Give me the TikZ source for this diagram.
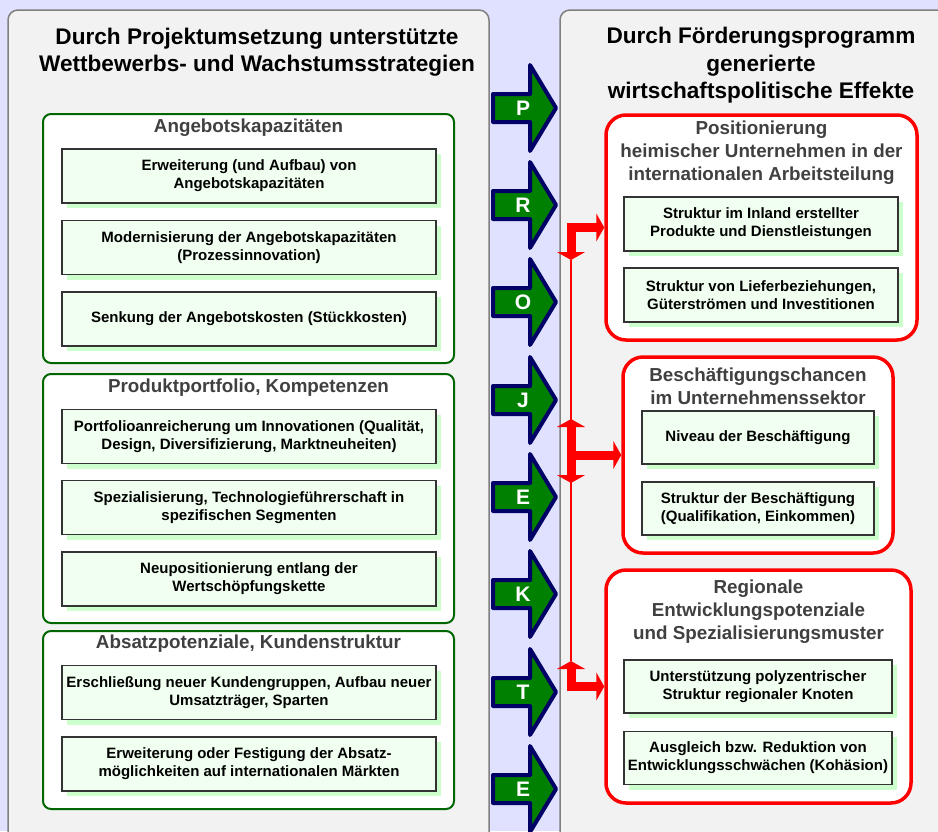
\documentclass[tikz,border=0pt]{standalone}
\usepackage{fontspec}
\setmainfont{Liberation Sans}
\usetikzlibrary{arrows.meta,shadows}
\definecolor{bglav}{HTML}{E0E0FF}
\definecolor{panelgray}{HTML}{F2F2F2}
\definecolor{panelborder}{HTML}{808080}
\definecolor{dgreen}{HTML}{006600}
\definecolor{innerfill}{HTML}{F0FFF0}
\definecolor{shadowgreen}{HTML}{CCFFCC}
\definecolor{titlegray}{HTML}{404040}
\definecolor{arrgreen}{HTML}{008000}
\definecolor{navyb}{HTML}{000066}
\begin{document}
\begin{tikzpicture}[x=1pt,y=-1pt,
  panel/.style={fill=panelgray, draw=panelborder, line width=1.5pt, rounded corners=10pt},
  greenbox/.style={draw=dgreen, fill=white, line width=2pt, rounded corners=8pt, inner sep=0pt},
  redbox/.style={draw=red, fill=white, line width=3.5pt, rounded corners=20pt, inner sep=0pt},
  innerbox/.style={draw=black!80, fill=innerfill, line width=1.2pt, inner sep=0pt, align=center,
    font=\fontsize{15}{18}\selectfont\bfseries,
    drop shadow={shadow xshift=5pt, shadow yshift=-5pt, fill=shadowgreen, opacity=1}},
  boxtitle/.style={inner sep=0pt, align=center, text=titlegray, font=\fontsize{18.8}{23}\selectfont\bfseries},
  paneltitle/.style={inner sep=0pt, align=center, text=black, font=\fontsize{22.6}{27.5}\selectfont\bfseries},
  blockarrow/.style={fill=arrgreen, draw=navyb, line width=4pt, line join=round},
  arrletter/.style={inner sep=0pt, text=white, font=\fontsize{21}{21}\selectfont\bfseries},
  redthick/.style={draw=red, line width=9pt, >={Triangle[length=8pt,width=28pt]}},
  redthin/.style={draw=red, line width=2pt}
]
\useasboundingbox (0,0) rectangle (938,831);
\clip (0,0) rectangle (938,831);
\fill[bglav] (0,0) rectangle (938,831);

% panels
\draw[panel] (8,10) rectangle (489,880);
\draw[panel] (560,10) rectangle (990,880);

\node[paneltitle] (ltitle) at (257,52) {Durch Projektumsetzung unterstützte\\Wettbewerbs- und Wachstumsstrategien};
\node[paneltitle] (rtitle) at (761,65.5) {Durch Förderungsprogramm\\generierte\\wirtschaftspolitische Effekte};

% left green groups
\node[greenbox, minimum width=411pt, minimum height=249pt] (g1) at (248.5,238.5) {};
\node[boxtitle] (g1t) at (248.5,128) {Angebotskapazitäten};
\node[innerbox, minimum width=374pt, minimum height=54pt] (g1a) at (249,176) {Erweiterung (und Aufbau) von\\Angebotskapazitäten};
\node[innerbox, minimum width=374pt, minimum height=54pt] (g1b) at (249,247.5) {Modernisierung der Angebotskapazitäten\\(Prozessinnovation)};
\node[innerbox, minimum width=374pt, minimum height=54pt] (g1c) at (249,319) {Senkung der Angebotskosten (Stückkosten)};

\node[greenbox, minimum width=411pt, minimum height=249pt] (g2) at (248.5,498.5) {};
\node[boxtitle] (g2t) at (248.5,388) {Produktportfolio, Kompetenzen};
\node[innerbox, minimum width=374pt, minimum height=54pt] (g2a) at (249,436.5) {Portfolioanreicherung um Innovationen (Qualität,\\Design, Diversifizierung, Marktneuheiten)};
\node[innerbox, minimum width=374pt, minimum height=54pt] (g2b) at (249,507.5) {Spezialisierung, Technologieführerschaft in\\spezifischen Segmenten};
\node[innerbox, minimum width=374pt, minimum height=54pt] (g2c) at (249,579) {Neupositionierung entlang der\\Wertschöpfungskette};

\node[greenbox, minimum width=411pt, minimum height=178pt] (g3) at (248.5,720) {};
\node[boxtitle] (g3t) at (248.5,644) {Absatzpotenziale, Kundenstruktur};
\node[innerbox, minimum width=374pt, minimum height=54pt] (g3a) at (249,692.5) {Erschließung neuer Kundengruppen, Aufbau neuer\\Umsatzträger, Sparten};
\node[innerbox, minimum width=374pt, minimum height=54pt] (g3b) at (249,764) {Erweiterung oder Festigung der Absatz-\\möglichkeiten auf internationalen Märkten};

% right red groups
\node[redbox, minimum width=311pt, minimum height=225pt] (r1) at (761.5,227.5) {};
\node[boxtitle] (r1t) at (761.5,153) {Positionierung\\heimischer Unternehmen in der\\internationalen Arbeitsteilung};
\node[innerbox, minimum width=274pt, minimum height=54pt] (r1a) at (761,224) {Struktur im Inland erstellter\\Produkte und Dienstleistungen};
\node[innerbox, minimum width=274pt, minimum height=54pt] (r1b) at (761,295) {Struktur von Lieferbeziehungen,\\Güterströmen und Investitionen};

\node[redbox, minimum width=270pt, minimum height=196pt] (r2) at (758,455) {};
\node[boxtitle] (r2t) at (758,386) {Beschäftigungschancen\\im Unternehmenssektor};
\node[innerbox, minimum width=232pt, minimum height=53pt] (r2a) at (758,437.5) {Niveau der Beschäftigung};
\node[innerbox, minimum width=232pt, minimum height=53pt] (r2b) at (758,508.5) {Struktur der Beschäftigung\\(Qualifikation, Einkommen)};

\node[redbox, minimum width=305pt, minimum height=233pt] (r3) at (758.5,686.5) {};
\node[boxtitle] (r3t) at (758.5,611.5) {Regionale\\Entwicklungspotenziale\\und Spezialisierungsmuster};
\node[innerbox, minimum width=268pt, minimum height=53pt] (r3a) at (758,686.5) {Unterstützung polyzentrischer\\Struktur regionaler Knoten};
\node[innerbox, minimum width=268pt, minimum height=53pt] (r3b) at (758,758) {Ausgleich bzw. Reduktion von\\Entwicklungsschwächen (Kohäsion)};

% PROJEKTE arrows
\foreach \yc/\L/\nm in {108/P/aP,205/R/aR,302/O/aO,400/J/aJ,497/E/aEa,594/K/aK,692/T/aT,789/E/aEb}{
  \draw[blockarrow] (493,\yc-14) -- (530,\yc-14) -- (530,\yc-43) -- (556,\yc) -- (530,\yc+43) -- (530,\yc+14) -- (493,\yc+14) -- cycle;
  \node[arrletter] (\nm) at (523,\yc) {\L};
}

% red connectors
\coordinate (jt) at (571,260);
\coordinate (jb) at (571,661);
\coordinate (mt) at (571,419);
\coordinate (mb) at (571,483);
\coordinate (mm) at (571,455);
\draw[redthin] (jt) -- (jb);
\draw[redthick,<->] (jt) |- (r1.west);
\draw[redthick,<->] (mt) -- (mb);
\draw[redthick,->] (mm) -- (r2.west);
\draw[redthick,<->] (jb) |- (r3.west);
\end{tikzpicture}
\end{document}
